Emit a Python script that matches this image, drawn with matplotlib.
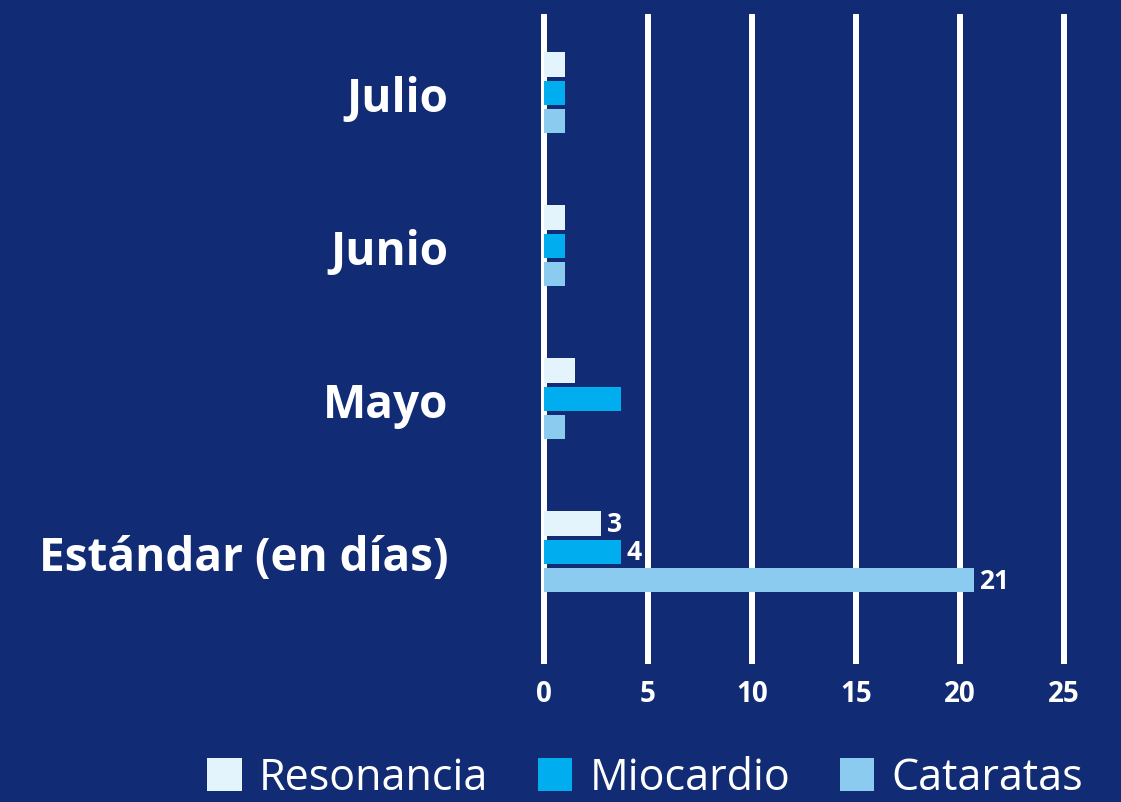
import matplotlib.pyplot as plt
from matplotlib.patches import Patch
import numpy as np

# data (bottom to top)
categories = ["Estándar (en días)", "Mayo", "Junio", "Julio"]
series = ["Resonancia", "Miocardio", "Cataratas"]
resonancia = [2.75, 1.5, 1.0, 1.0]
miocardio = [3.7, 3.7, 1.0, 1.0]
cataratas = [20.65, 1.0, 1.0, 1.0]
# value labels shown only on the standard group
std_labels = ["3", "4", "21"]
xticks = [0, 5, 10, 15, 20, 25]

BG = "#112c74"
colors = ["#e3f4fd", "#00aeef", "#8ccbf0"]
FONT = "Open Sans"

fig = plt.figure(figsize=(11.21, 8.03), dpi=100, facecolor=BG)
ax = fig.add_axes([0.4779, 0.1719, 0.4787, 0.8094])
ax.set_facecolor(BG)

y = np.arange(len(categories))
offsets = [0.186, 0.0, -0.186]
h = 0.157
vals = [resonancia, miocardio, cataratas]
for vs, off, c in zip(vals, offsets, colors):
    ax.barh(y + off, vs, height=h, color=c, zorder=3)

# labels on the Estándar group
for vs, off, lab in zip(vals, offsets, std_labels):
    ax.annotate(lab, (vs[0], y[0] + off), xytext=(4, 0), textcoords="offset points",
                va="center", ha="left", color="white", fontsize=19,
                fontweight="bold", family=FONT, zorder=4)

ax.set_xlim(-0.4, 25.4)
ax.set_ylim(-0.732, 3.516)
ax.set_xticks(xticks)
ax.set_yticks(y)
ax.set_yticklabels(categories)
ax.grid(axis="x", color="white", linewidth=4.3, zorder=1)
ax.set_axisbelow(True)
for s in ax.spines.values():
    s.set_visible(False)
ax.tick_params(axis="both", length=0, colors="white")
ax.tick_params(axis="y", pad=63)
ax.tick_params(axis="x", pad=11)
for t in ax.get_yticklabels():
    t.set_fontsize(33)
    t.set_fontweight("bold")
    t.set_family(FONT)
    t.set_y(t.get_position()[1])
for t in ax.get_xticklabels():
    t.set_fontsize(20)
    t.set_fontweight("bold")
    t.set_family(FONT)

handles = [Patch(facecolor=c, edgecolor="none") for c in colors]
leg = fig.legend(handles, series, loc="center right", bbox_to_anchor=(0.966, 0.03),
                 ncol=3, frameon=False, prop={"family": FONT, "size": 31, "weight": "medium"},
                 handlelength=0.8, handleheight=0.8, handletextpad=0.4,
                 columnspacing=1.15, labelcolor="white", borderaxespad=0, borderpad=0)

fig.savefig("out.png", dpi=100, facecolor=BG)
